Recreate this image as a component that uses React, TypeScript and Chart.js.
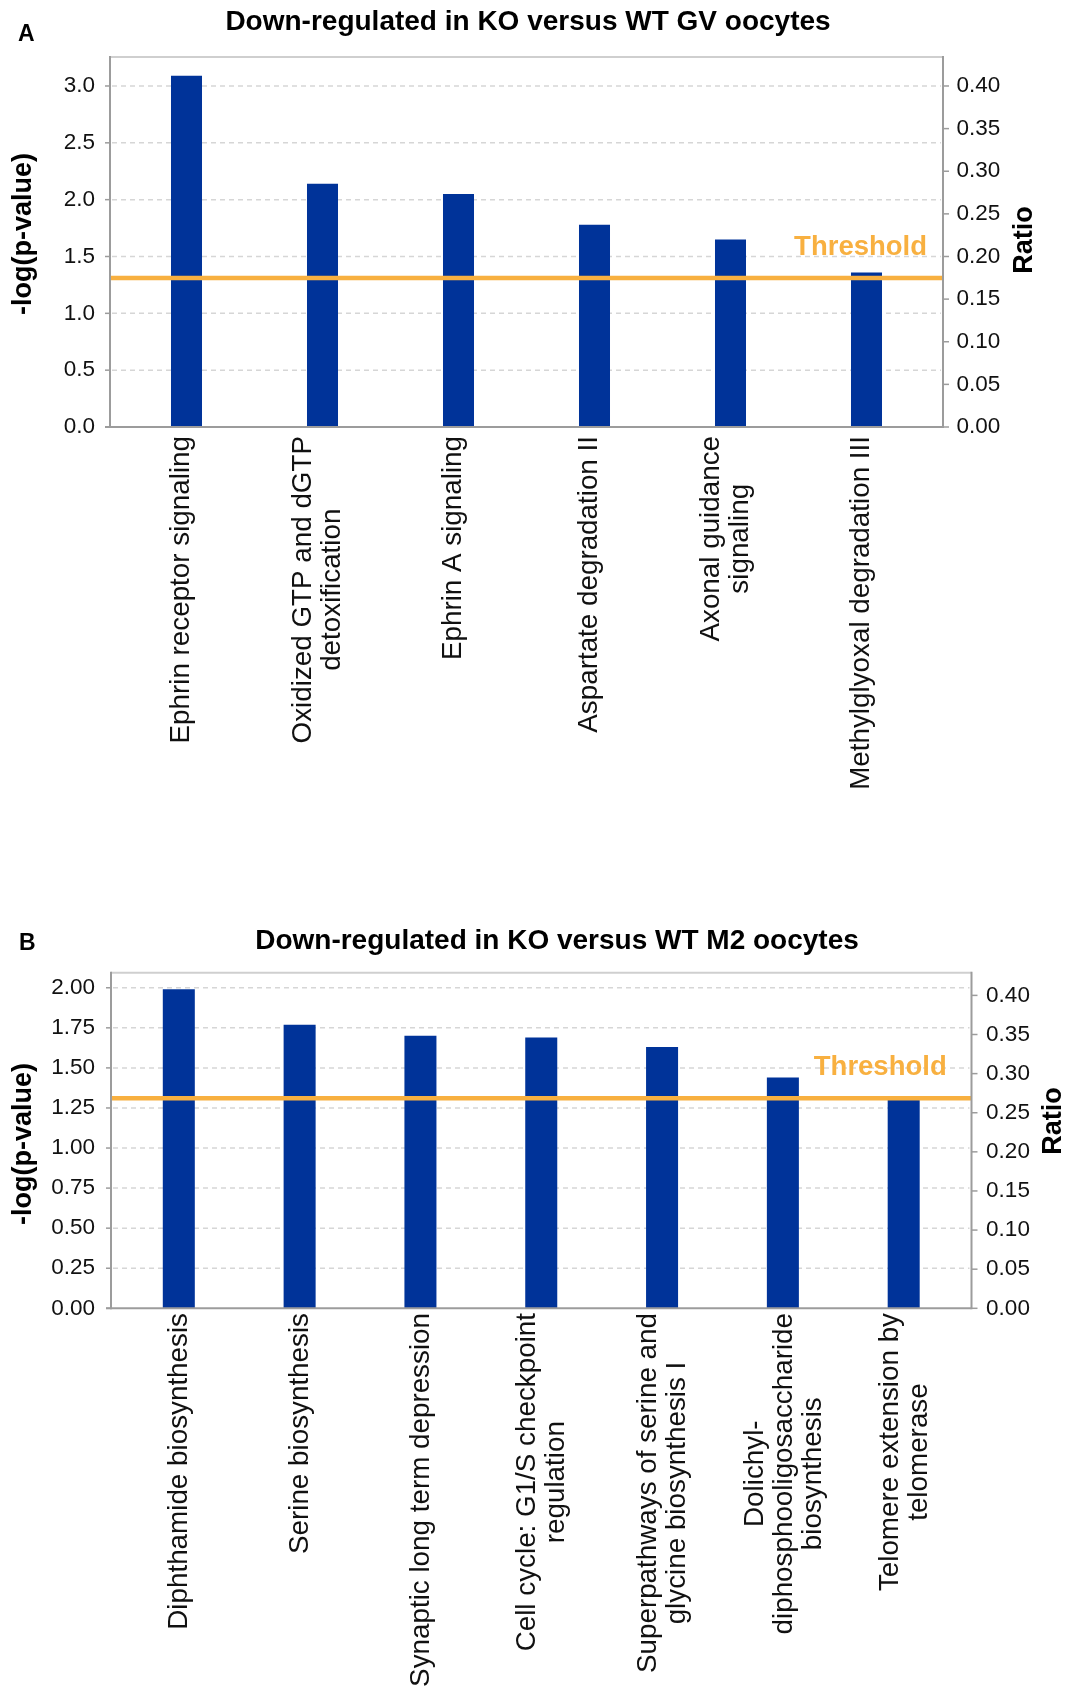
import React, { useEffect, useRef } from "react";
import { Chart, registerables } from "chart.js";

Chart.register(...registerables);

// ---------- DATA ----------
const titleA = "Down-regulated in KO versus WT GV oocytes";
const categoriesA: (string | string[])[] = [
  "Ephrin receptor signaling",
  ["Oxidized GTP and dGTP", "detoxification"],
  "Ephrin A signaling",
  "Aspartate degradation II",
  ["Axonal guidance", "signaling"],
  "Methylglyoxal degradation III",
];
const valuesA = [3.09, 2.14, 2.05, 1.78, 1.65, 1.36];
const thresholdA = 1.31;
const leftAxisA = [0, 3.255, 0.5]; // min, max, step
const ratioAxisA = [0, 0.434, 0.05];

const titleB = "Down-regulated in KO versus WT M2 oocytes";
const categoriesB: (string | string[])[] = [
  "Diphthamide biosynthesis",
  "Serine biosynthesis",
  "Synaptic long term depression",
  ["Cell cycle: G1/S checkpoint", "regulation"],
  ["Superpathways of serine and", "glycine biosynthesis I"],
  ["Dolichyl-", "diphosphooligosaccharide", "biosynthesis"],
  ["Telomere extension by", "telomerase"],
];
const valuesB = [1.99, 1.77, 1.7, 1.69, 1.63, 1.44, 1.3];
const thresholdB = 1.31;
const leftAxisB = [0, 2.094, 0.25];
const ratioAxisB = [0, 0.429, 0.05];

// ---------- STYLE / LAYOUT ----------
const FONT = "'Liberation Sans', Arial, sans-serif";
const BAR = "#003399";
const ORANGE = "#F8B040";

type Spec = {
  letter: string;
  title: string;
  categories: (string | string[])[];
  values: number[];
  threshold: number;
  leftAxis: number[];
  ratioAxis: number[];
  leftDecimals: number;
  height: number;
  top: number;
  plotTop: number;
  xAxisHeight: number;
  leftWidth: number;
  rightWidth: number;
  leftPad: number;
  rightPad: number;
  framePad: number;
  barPct: number;
  titlePos: [number, number];
  letterPos: [number, number];
  yTitlePos: [number, number];
  ratioTitlePos: [number, number];
  thrText: [number, number];
  labelTop: number;
  labelShift: number;
  lineH: number;
};

const specA: Spec = {
  letter: "A",
  title: titleA,
  categories: categoriesA,
  values: valuesA,
  threshold: thresholdA,
  leftAxis: leftAxisA,
  ratioAxis: ratioAxisA,
  leftDecimals: 1,
  height: 880,
  top: 0,
  plotTop: 57,
  xAxisHeight: 880 - 427,
  leftWidth: 118.5,
  rightWidth: 1067 - 934.5,
  leftPad: 23.5,
  rightPad: 22,
  framePad: 8.5,
  barPct: 0.228,
  titlePos: [528, 22],
  letterPos: [18, 35],
  yTitlePos: [24, 234],
  ratioTitlePos: [1025, 240],
  thrText: [927, 255],
  labelTop: 436,
  labelShift: -6,
  lineH: 29,
};

const specB: Spec = {
  letter: "B",
  title: titleB,
  categories: categoriesB,
  values: valuesB,
  threshold: thresholdB,
  leftAxis: leftAxisB,
  ratioAxis: ratioAxisB,
  leftDecimals: 2,
  height: 810,
  top: 880,
  plotTop: 92.7,
  xAxisHeight: 810 - 428.3,
  leftWidth: 118.4,
  rightWidth: 1067 - 964.1,
  leftPad: 23.4,
  rightPad: 22,
  framePad: 7.4,
  barPct: 0.265,
  titlePos: [557, 61],
  letterPos: [19, 63.5],
  yTitlePos: [24, 264],
  ratioTitlePos: [1054, 241],
  thrText: [946.7, 195],
  labelTop: 433,
  labelShift: 0,
  lineH: 29,
};

function line(ctx: CanvasRenderingContext2D, x1: number, y1: number, x2: number, y2: number) {
  ctx.beginPath();
  ctx.moveTo(x1, y1);
  ctx.lineTo(x2, y2);
  ctx.stroke();
}

function makeDecor(spec: Spec) {
  return {
    id: "ipaDecor" + spec.letter,
    beforeDatasetsDraw(chart: any) {
      const { ctx, chartArea: ca, scales } = chart;
      const y = scales.y;
      const fl = ca.left - spec.framePad;
      const fr = ca.right + spec.framePad;
      ctx.save();
      ctx.strokeStyle = "#d6d6d6";
      ctx.lineWidth = 1.5;
      ctx.setLineDash([5, 4]);
      y.ticks.forEach((t: any) => {
        if (t.value === 0) return;
        const py = y.getPixelForValue(t.value);
        line(ctx, fl + 2, py, fr - 2, py);
      });
      ctx.restore();
    },
    afterDatasetsDraw(chart: any) {
      const { ctx, chartArea: ca, scales } = chart;
      const y = scales.y;
      const y2 = scales.y2;
      const x = scales.x;
      const fl = ca.left - spec.framePad;
      const fr = ca.right + spec.framePad;
      ctx.save();
      // threshold line
      const ty = y.getPixelForValue(spec.threshold);
      ctx.strokeStyle = ORANGE;
      ctx.lineWidth = 4.5;
      line(ctx, fl, ty, fr, ty);
      // frame
      ctx.lineWidth = 2;
      ctx.strokeStyle = "#cfcfcf";
      line(ctx, fl, ca.top, fr, ca.top);
      ctx.strokeStyle = "#9c9c9c";
      line(ctx, fl, ca.top - 1, fl, ca.bottom + 1);
      line(ctx, fr, ca.top - 1, fr, ca.bottom + 1);
      line(ctx, fl - 5, ca.bottom, fr, ca.bottom);
      // tick marks
      ctx.lineWidth = 1.5;
      y.ticks.forEach((t: any) => {
        const py = y.getPixelForValue(t.value);
        line(ctx, fl - 5, py, fl, py);
      });
      y2.ticks.forEach((t: any) => {
        const py = y2.getPixelForValue(t.value);
        line(ctx, fr, py, fr + 6, py);
      });
      // threshold label
      ctx.fillStyle = ORANGE;
      ctx.font = `bold 27.5px ${FONT}`;
      ctx.textAlign = "right";
      ctx.textBaseline = "alphabetic";
      ctx.fillText("Threshold", spec.thrText[0], spec.thrText[1]);
      // title + letter
      ctx.fillStyle = "#000";
      ctx.font = `bold 28px ${FONT}`;
      ctx.textAlign = "center";
      ctx.textBaseline = "middle";
      ctx.fillText(spec.title, spec.titlePos[0], spec.titlePos[1]);
      ctx.font = `bold 23px ${FONT}`;
      ctx.textAlign = "left";
      ctx.fillText(spec.letter, spec.letterPos[0], spec.letterPos[1]);
      // axis titles
      ctx.font = `bold 27px ${FONT}`;
      ctx.textAlign = "center";
      ctx.save();
      ctx.translate(spec.yTitlePos[0], spec.yTitlePos[1]);
      ctx.rotate(-Math.PI / 2);
      ctx.fillText("-log(p-value)", 0, 0);
      ctx.restore();
      ctx.save();
      ctx.translate(spec.ratioTitlePos[0], spec.ratioTitlePos[1]);
      ctx.rotate(-Math.PI / 2);
      ctx.fillText("Ratio", 0, 0);
      ctx.restore();
      // category labels (rotated, centered lines)
      ctx.font = `27.8px ${FONT}`;
      ctx.fillStyle = "#111";
      const labels = chart.data.labels as (string | string[])[];
      labels.forEach((lab, i) => {
        const lines = Array.isArray(lab) ? lab : [lab];
        const maxW = Math.max(...lines.map((l) => ctx.measureText(l).width));
        const px = x.getPixelForValue(i) + spec.labelShift;
        ctx.save();
        ctx.translate(px, spec.labelTop + maxW / 2);
        ctx.rotate(-Math.PI / 2);
        ctx.textAlign = "center";
        ctx.textBaseline = "middle";
        lines.forEach((l, j) => {
          ctx.fillText(l, 0, (j - (lines.length - 1) / 2) * spec.lineH + 1);
        });
        ctx.restore();
      });
      ctx.restore();
    },
  };
}

function makeChart(canvas: HTMLCanvasElement, spec: Spec) {
  const tickFont = { family: FONT, size: 22.5 };
  return new Chart(canvas, {
    type: "bar",
    data: {
      labels: spec.categories as any,
      datasets: [
        {
          data: spec.values,
          backgroundColor: BAR,
          borderWidth: 0,
          barPercentage: spec.barPct,
          categoryPercentage: 1,
          yAxisID: "y",
        },
      ],
    },
    options: {
      responsive: false,
      maintainAspectRatio: false,
      animation: false,
      layout: { padding: { top: spec.plotTop, bottom: 0, left: 0, right: 0 } },
      plugins: {
        legend: { display: false },
        tooltip: { enabled: false },
        title: { display: false },
      },
      scales: {
        x: {
          type: "category",
          offset: true,
          grid: { display: false, drawTicks: false },
          border: { display: false },
          ticks: { display: false },
          afterFit: (s: any) => {
            s.height = spec.xAxisHeight;
          },
        },
        y: {
          position: "left",
          min: spec.leftAxis[0],
          max: spec.leftAxis[1],
          grid: { display: false, drawTicks: false },
          border: { display: false },
          ticks: {
            stepSize: spec.leftAxis[2],
            includeBounds: false,
            autoSkip: false,
            padding: spec.leftPad,
            font: tickFont,
            color: "#111",
            callback: (v: any) => Number(v).toFixed(spec.leftDecimals),
          },
          afterFit: (s: any) => {
            s.width = spec.leftWidth;
          },
        },
        y2: {
          position: "right",
          min: spec.ratioAxis[0],
          max: spec.ratioAxis[1],
          grid: { display: false, drawTicks: false },
          border: { display: false },
          ticks: {
            stepSize: spec.ratioAxis[2],
            includeBounds: false,
            autoSkip: false,
            padding: spec.rightPad,
            font: tickFont,
            color: "#111",
            callback: (v: any) => Number(v).toFixed(2),
          },
          afterFit: (s: any) => {
            s.width = spec.rightWidth;
          },
        },
      },
    } as any,
    plugins: [makeDecor(spec) as any],
  });
}

function Panel({ spec }: { spec: Spec }) {
  const ref = useRef<HTMLCanvasElement | null>(null);
  useEffect(() => {
    if (!ref.current) return;
    const chart = makeChart(ref.current, spec);
    return () => chart.destroy();
  }, [spec]);
  return (
    <canvas
      ref={ref}
      width={1067}
      height={spec.height}
      style={{ position: "absolute", left: 0, top: spec.top, width: 1067, height: spec.height }}
    />
  );
}

export default function App() {
  useEffect(() => {
    document.body.style.margin = "0";
    document.body.style.background = "#fff";
  }, []);
  return (
    <div style={{ position: "absolute", left: 0, top: 0, width: 1067, height: 1690, background: "#fff" }}>
      <Panel spec={specA} />
      <Panel spec={specB} />
    </div>
  );
}
